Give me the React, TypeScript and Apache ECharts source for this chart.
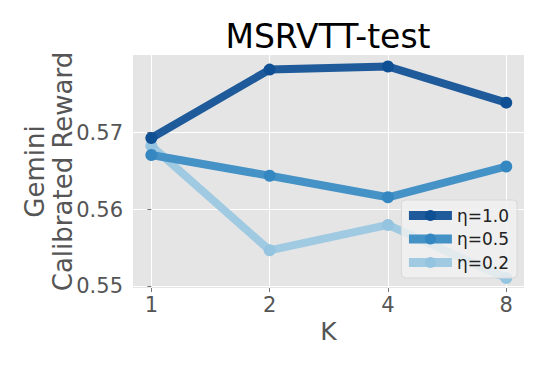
import React, { useEffect, useRef } from "react";
import * as echarts from "echarts";

const kLabels = ["1", "2", "4", "8"];
const seriesNames = ["η=1.0", "η=0.5", "η=0.2"];
const eta10 = [0.5693, 0.5782, 0.5786, 0.5739];
const eta05 = [0.5671, 0.5644, 0.5616, 0.5656];
const eta02 = [0.5683, 0.5547, 0.558, 0.5511];
const yTicks = [0.55, 0.56, 0.57];

const lineColors = ["#1f5b9b", "#4592c6", "#9fcae2"];
const markerColors = ["#0f4f93", "#3487c0", "#94c4df"];

export default function App() {
  const ref = useRef<HTMLDivElement>(null);
  useEffect(() => {
    if (!ref.current) return;
    const chart = echarts.init(ref.current, undefined, { renderer: "svg" });
    const font = "DejaVu Sans";
    const allData = [eta10, eta05, eta02];
    chart.setOption({
      animation: false,
      textStyle: { fontFamily: font },
      title: {
        text: "MSRVTT-test",
        left: 328,
        textAlign: "center",
        top: 20,
        padding: 0,
        textStyle: { fontFamily: font, fontSize: 33, fontWeight: "normal", color: "#000" },
      },
      grid: {
        left: 133,
        right: 24,
        top: 55,
        bottom: 78,
        show: true,
        backgroundColor: "#e5e5e5",
        borderWidth: 0,
      },
      legend: {
        orient: "vertical",
        right: 31,
        top: 200,
        z: 20,
        padding: [7, 8, 7, 3],
        itemWidth: 43,
        itemHeight: 14,
        itemGap: 6.5,
        backgroundColor: "rgba(240,240,240,0.82)",
        borderColor: "#d8d8d8",
        borderWidth: 1,
        borderRadius: 4,
        lineStyle: { width: 9 },
        textStyle: { fontFamily: font, fontSize: 17, color: "#222" },
        data: seriesNames,
      },
      xAxis: {
        type: "value",
        min: -0.155,
        max: 3.15,
        name: "K",
        nameLocation: "middle",
        nameGap: 31,
        nameMoveOverlap: false,
        nameTextStyle: { fontFamily: font, fontSize: 25, color: "#555", lineHeight: 25 },
        axisLine: { show: false },
        axisTick: { show: true, customValues: [0, 1, 2, 3], length: 4, lineStyle: { color: "#777" } },
        axisLabel: {
          customValues: [0, 1, 2, 3],
          formatter: (v: number) => kLabels[Math.round(v)] ?? "",
          fontSize: 21,
          color: "#555",
          margin: 6,
        },
        splitLine: { show: true, lineStyle: { color: "#ffffff", width: 1 } },
      },
      yAxis: {
        type: "value",
        min: 0.5498,
        max: 0.5801,
        name: "Gemini\nCalibrated Reward",
        nameLocation: "middle",
        nameGap: 56,
        nameMoveOverlap: false,
        nameRotate: 90,
        nameTextStyle: { fontFamily: font, fontSize: 26, color: "#555", lineHeight: 28, align: "center" },
        axisLine: { show: false },
        axisTick: { show: true, customValues: yTicks, length: 4, lineStyle: { color: "#777" } },
        axisLabel: {
          customValues: yTicks,
          formatter: (v: number) => v.toFixed(2),
          fontSize: 21,
          color: "#555",
          margin: 10,
        },
        splitLine: { show: true, lineStyle: { color: "#ffffff", width: 1 } },
      },
      series: seriesNames.map((name, i) => ({
        name,
        type: "line",
        data: allData[i].map((v, j) => [j, v]),
        symbol: "circle",
        symbolSize: 12,
        lineStyle: { color: lineColors[i], width: 8 },
        itemStyle: { color: markerColors[i] },
        z: 2 + (2 - i) * 0.1,
      })),
    });
    return () => chart.dispose();
  }, []);
  return (
    <div
      ref={ref}
      style={{ position: "absolute", left: 0, top: 0, width: 548, height: 366 }}
    />
  );
}
